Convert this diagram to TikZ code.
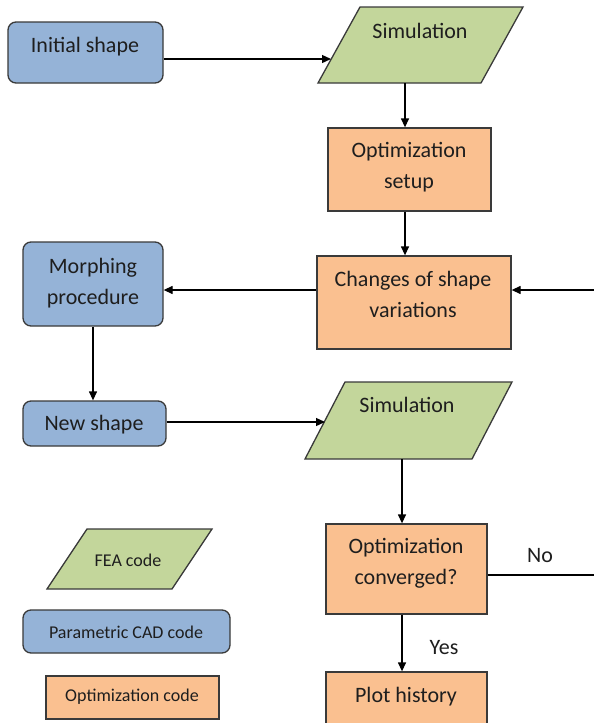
\documentclass[tikz,border=0pt]{standalone}
\usepackage{fontspec}
\setmainfont{Carlito}
\usetikzlibrary{arrows.meta,calc}
\definecolor{bluef}{HTML}{95B3D7}
\definecolor{greenf}{HTML}{C3D69B}
\definecolor{orangef}{HTML}{FAC090}
\definecolor{edgec}{HTML}{3A3A3A}
\definecolor{txtc}{HTML}{1E1E1E}
\tikzset{
  bbox/.style={draw=edgec, fill=bluef, line width=1.3pt, rounded corners=8pt, inner sep=0pt},
  obox/.style={draw=edgec, fill=orangef, line width=1.3pt, inner sep=0pt},
  gpara/.style={draw=edgec, fill=greenf, line width=1.3pt, line join=miter},
  txt/.style={font=\fontsize{22}{31}\selectfont, text=txtc, align=center, inner sep=0pt},
  ltxt/.style={font=\fontsize{18}{22}\selectfont, text=txtc, align=center, inner sep=0pt},
  arr/.style={draw=black, line width=1.3pt, -{Triangle[length=9pt,width=8pt]}},
  plain/.style={draw=black!80, line width=1.3pt}
}
\begin{document}
\begin{tikzpicture}[x=1pt,y=-1pt]
\clip (0,0) rectangle (594,723);
\fill[white] (0,0) rectangle (594,723);

% ---- boxes ----
\node[bbox, minimum width=155pt, minimum height=61pt] (init) at (85.5,52.5) {};
\node[txt] (initT) at (85,47) {Initial shape};

\coordinate (s1bl) at (318,83);
\coordinate (s1br) at (481,83);
\coordinate (s1tr) at (523,7);
\coordinate (s1tl) at (360,7);
\path[gpara] (s1bl) -- (s1br) -- (s1tr) -- (s1tl) -- cycle;
\node[txt] (sim1) at (420,31) {Simulation};
\coordinate (s1in) at (331,59);
\coordinate (s1b) at (405,83);

\node[obox, minimum width=163pt, minimum height=83pt] (opt) at (409.5,169.5) {};
\node[txt] (optT) at (409,167.5) {Optimization\\setup};

\node[obox, minimum width=194pt, minimum height=93pt] (chg) at (414,302.5) {};
\node[txt] (chgT) at (413,294.5) {Changes of shape\\variations};

\node[bbox, minimum width=140pt, minimum height=84pt] (morph) at (93,284) {};
\node[txt] (morphT) at (93,283) {Morphing\\procedure};

\node[bbox, minimum width=143pt, minimum height=45pt] (new) at (94.5,423.5) {};
\node[txt] (newT) at (94,425) {New shape};

\coordinate (s2bl) at (305,459);
\coordinate (s2br) at (472,459);
\coordinate (s2tr) at (512,382);
\coordinate (s2tl) at (345,382);
\path[gpara] (s2bl) -- (s2br) -- (s2tr) -- (s2tl) -- cycle;
\node[txt] (sim2) at (407,405) {Simulation};
\coordinate (s2in) at (325,422);
\coordinate (s2b) at (402,459);

\node[obox, minimum width=161pt, minimum height=90pt] (cv) at (406.5,569) {};
\node[txt] (cvT) at (406,563) {Optimization\\converged?};

\node[obox, minimum width=161pt, minimum height=63pt] (plot) at (406.5,703.5) {};
\node[txt] (plotT) at (406,697) {Plot history};

% ---- legend ----
\coordinate (fbl) at (47,589);
\coordinate (fbr) at (172,589);
\coordinate (ftr) at (212,529);
\coordinate (ftl) at (87,529);
\path[gpara] (fbl) -- (fbr) -- (ftr) -- (ftl) -- cycle;
\node[ltxt] (fea) at (128,560) {FEA code};

\node[bbox, minimum width=207pt, minimum height=43pt] (cad) at (126.5,631.5) {};
\node[ltxt] (cadT) at (126,632) {Parametric CAD code};

\node[obox, minimum width=173pt, minimum height=43pt] (oc) at (132.5,697.5) {};
\node[ltxt] (ocT) at (132,697) {Optimization code};

% ---- connectors ----
\coordinate (ya) at (0,290);
\coordinate (yno) at (0,575);
\coordinate (rb) at (600,575);
\coordinate (rt) at (600,290);

\draw[arr] (init.east |- s1in) -- (s1in);
\draw[arr] (s1b) -- (s1b |- opt.north);
\draw[arr] (s1b |- opt.south) -- (s1b |- chg.north);
\draw[arr] (chg.west |- ya) -- (morph.east |- ya);
\draw[arr] (cv.east |- yno) -- (rb) -- (rt) -- (chg.east |- ya);
\draw[arr] (morph.south) -- (morph.south |- new.north);
\draw[arr] (new.east |- s2in) -- (s2in);
\draw[arr] (s2b) -- (s2b |- cv.north);
\draw[arr] (s2b |- cv.south) -- (s2b |- plot.north);

\node[txt] (no) at (540,556) {No};
\node[txt] (yes) at (444,648) {Yes};
\end{tikzpicture}
\end{document}
